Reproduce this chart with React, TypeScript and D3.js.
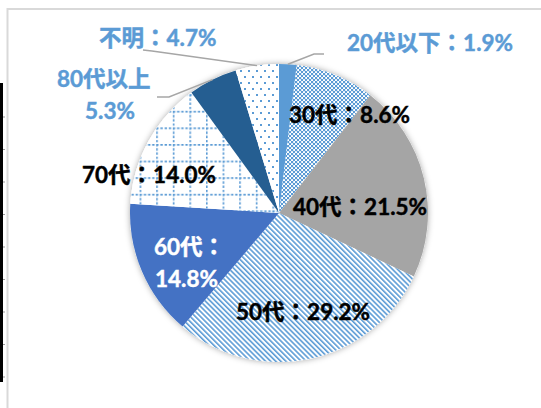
import React from "react";
import * as d3 from "d3";

const categories = ["20代以下", "30代", "40代", "50代", "60代", "70代", "80代以上", "不明"];
const values = [1.9, 8.6, 21.5, 29.2, 14.8, 14.0, 5.3, 4.7];
// label text lines per slice
const labelLines = [
  ["20代以下：1.9%"],
  ["30代：8.6%"],
  ["40代：21.5%"],
  ["50代：29.2%"],
  ["60代：", "14.8%"],
  ["70代：14.0%"],
  ["80代以上", "5.3%"],
  ["不明：4.7%"],
];

const W = 541;
const H = 408;
const cx = 279;
const cy = 213;
const R = 149;

const BLUE = "#5B9BD5";
const fills = [BLUE, "url(#p30)", "#A5A5A5", "url(#p50)", "#4472C4", "url(#p70)", "#255E91", "url(#pUnk)"];
const labelColors = [BLUE, "#000", "#000", "#000", "#fff", "#000", BLUE, BLUE];
// label layout: left x, first-line center y, per-line x offsets
const labelLayout = [
  { x: 347, y: 43, xs: [0] },
  { x: 289, y: 115, xs: [0] },
  { x: 293, y: 207, xs: [0] },
  { x: 236, y: 312, xs: [0] },
  { x: 154, y: 247, xs: [0, 1] },
  { x: 82, y: 175, xs: [0] },
  { x: 57, y: 79, xs: [0, 28] },
  { x: 99, y: 38, xs: [0] },
];
const lineGap = 32;
// leader lines: elbow and end points (for outside labels)
const leaders: Record<number, [number, number][]> = {
  0: [[314, 54], [324, 54]],
  6: [[169, 97], [157, 97]],
  7: [[152, 51], [143, 50]],
};

const FONT = "Lato, 'Noto Sans CJK JP', sans-serif";

export default function App() {
  const pie = d3
    .pie<number>()
    .sort(null)
    .value((d) => d)
    .startAngle(0)
    .endAngle(2 * Math.PI);
  const arcs = pie(values);
  const arc = d3.arc<d3.PieArcDatum<number>>().innerRadius(0).outerRadius(R);

  const ticks = d3.range(9).map((i) => 117 + i * 32.5);

  return (
    <svg
      width={W}
      height={H}
      style={{ position: "absolute", left: 0, top: 0, background: "#fff" }}
    >
      <defs>
        <pattern id="p30" width={4} height={4} patternUnits="userSpaceOnUse">
          <rect width={4} height={4} fill="#fff" />
          <rect x={0} y={0} width={2.2} height={2.2} fill={BLUE} />
          <rect x={2} y={2} width={2.2} height={2.2} fill={BLUE} />
        </pattern>
        <pattern
          id="p50"
          width={3.6}
          height={10}
          patternUnits="userSpaceOnUse"
          patternTransform="rotate(-45)"
        >
          <rect width={3.6} height={10} fill="#fff" />
          <rect x={0} y={0} width={1.6} height={10} fill={BLUE} />
        </pattern>
        <pattern id="p70" x={10} y={14} width={16.6} height={16.6} patternUnits="userSpaceOnUse">
          <rect width={16.6} height={16.6} fill="#fff" />
          <line x1={0} y1={0.8} x2={16.6} y2={0.8} stroke={BLUE} strokeWidth={1.6} strokeDasharray="2.4 1.8" />
          <line x1={0.8} y1={0} x2={0.8} y2={16.6} stroke={BLUE} strokeWidth={1.6} strokeDasharray="2.4 1.8" />
        </pattern>
        <pattern id="pUnk" width={8} height={12} patternUnits="userSpaceOnUse">
          <rect width={8} height={12} fill="#fff" />
          <rect x={1} y={1} width={2} height={2} fill={BLUE} />
          <rect x={5} y={7} width={2} height={2} fill={BLUE} />
        </pattern>
        <filter id="shadow" x="-20%" y="-20%" width="140%" height="140%">
          <feDropShadow dx={0} dy={0} stdDeviation={3} floodColor="#000" floodOpacity={0.35} />
        </filter>
      </defs>

      {/* outer frame */}
      <rect x={7.5} y={9} width={600} height={500} fill="none" stroke="#D9D9D9" strokeWidth={2} />
      {/* left black edge */}
      <rect x={0} y={83} width={3} height={299} fill="#000" />
      {ticks.map((t, i) => (
        <line key={i} x1={3} x2={5} y1={t} y2={t} stroke="#999" strokeWidth={1} />
      ))}

      <g transform={`translate(${cx},${cy})`}>
        <circle r={R} fill="#fff" filter="url(#shadow)" />
        {arcs.map((a, i) => (
          <path key={categories[i]} d={arc(a) || ""} fill={fills[i]} />
        ))}
      </g>

      {/* leader lines */}
      {arcs.map((a, i) => {
        const pts = leaders[i];
        if (!pts) return null;
        const mid = (a.startAngle + a.endAngle) / 2;
        const sx = cx + R * Math.sin(mid);
        const sy = cy - R * Math.cos(mid);
        const d = d3.line()([[sx, sy], ...pts]) || "";
        return <path key={"l" + i} d={d} fill="none" stroke="#A6A6A6" strokeWidth={1.5} />;
      })}

      {/* labels */}
      {labelLines.map((lines, i) => {
        const L = labelLayout[i];
        return (
          <text
            key={"t" + i}
            fontFamily={FONT}
            fontWeight="bold"
            fontSize={22.5}
            fill={labelColors[i]}
            stroke={labelColors[i]}
            strokeWidth={0.45}
          >
            {lines.map((s, j) => (
              <tspan key={j} x={L.x + (L.xs[j] || 0)} y={L.y + j * lineGap} dy="0.36em">
                {s}
              </tspan>
            ))}
          </text>
        );
      })}
    </svg>
  );
}
